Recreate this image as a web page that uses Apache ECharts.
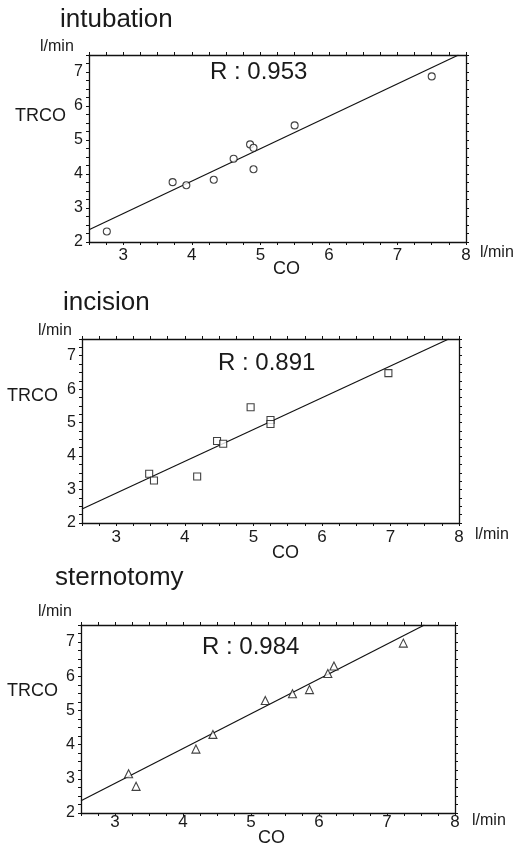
<!DOCTYPE html>
<html>
<head>
<meta charset="utf-8">
<script src="https://cdn.jsdelivr.net/npm/echarts@6/dist/echarts.min.js"></script>
<style>
html,body{margin:0;padding:0;background:#fff;}
#chart{width:526px;height:846px;}
</style>
</head>
<body>
<div id="chart"></div>
<script>
// ---- data ----
var panelTitles = ['intubation', 'incision', 'sternotomy'];
var rLabels = ['R : 0.953', 'R : 0.891', 'R : 0.984'];
var xTickLabels = [3, 4, 5, 6, 7, 8];
var yTickLabels = [2, 3, 4, 5, 6, 7];

var intubationPoints = [
  [2.76, 2.31], [3.72, 3.76], [3.92, 3.67], [4.32, 3.83], [4.61, 4.45],
  [4.85, 4.87], [4.90, 4.77], [4.90, 4.14], [5.50, 5.43], [7.50, 6.87]
];
var incisionPoints = [
  [3.48, 3.47], [3.55, 3.27], [4.18, 3.39], [4.47, 4.45], [4.56, 4.37],
  [4.96, 5.46], [5.25, 5.08], [5.25, 4.96], [6.97, 6.48]
];
var sternotomyPoints = [
  [3.20, 3.15], [3.31, 2.78], [4.19, 3.87], [4.44, 4.30], [5.21, 5.29],
  [5.61, 5.49], [5.86, 5.61], [6.13, 6.08], [6.22, 6.30], [7.24, 6.97]
];
var intubationFit = [[2.5, 2.36], [7.89, 7.5]];
var incisionFit = [[2.5, 2.42], [7.85, 7.5]];
var sternotomyFit = [[2.5, 2.36], [7.55, 7.5]];

var pointSets = [intubationPoints, incisionPoints, sternotomyPoints];
var fitSets = [intubationFit, incisionFit, sternotomyFit];
var symbols = ['circle', 'rect', 'triangle'];

// ---- layout ----
var FONT = 'Liberation Sans, Arial, sans-serif';
var grids = [
  {left: 89, top: 55, width: 377, height: 187},
  {left: 82, top: 339, width: 377, height: 184},
  {left: 81, top: 625, width: 374, height: 188}
];
var xLabelMargin = [5, 6, 1];
var txt = [
  {title:{left:60,top:7}, unitY:{left:40,top:39}, r:{left:210,top:60}, trco:{left:15,top:107}, unitX:{left:480,top:245}, co:{left:273,top:260}},
  {title:{left:63,top:290}, unitY:{left:38,top:323}, r:{left:218,top:351}, trco:{left:7,top:387}, unitX:{left:475,top:527}, co:{left:272,top:544}},
  {title:{left:55,top:565}, unitY:{left:38,top:604}, r:{left:202,top:635}, trco:{left:7,top:682}, unitX:{left:472,top:813}, co:{left:258,top:829}}
];

var option = {
  backgroundColor: '#ffffff',
  animation: false,
  textStyle: {fontFamily: FONT, color: '#111'},
  title: [], grid: [], xAxis: [], yAxis: [], series: []
};

function t(text, pos, size) {
  return {text: text, left: pos.left, top: pos.top, padding: 0,
    textStyle: {fontFamily: FONT, fontSize: size, fontWeight: 'normal', color: '#1a1a1a'}};
}

for (var i = 0; i < 3; i++) {
  option.grid.push(Object.assign({containLabel: false}, grids[i]));
  option.title.push(t(panelTitles[i], txt[i].title, 26));
  option.title.push(t('l/min', txt[i].unitY, 16));
  option.title.push(t(rLabels[i], txt[i].r, 24));
  option.title.push(t('TRCO', txt[i].trco, 18));
  option.title.push(t('l/min', txt[i].unitX, 16));
  option.title.push(t('CO', txt[i].co, 18));

  var lineStyle = {color: '#111', width: 1.3};
  var tick = {show: true, inside: false, length: 3, lineStyle: {color: '#111', width: 1}};
  var xBase = {type: 'value', gridIndex: i, min: 2.5, max: 8, interval: 0.25,
    splitLine: {show: false}, axisLine: {show: true, onZero: false, lineStyle: lineStyle}, axisTick: tick};
  var yBase = {type: 'value', gridIndex: i, min: 2, max: 7.5, interval: 0.25,
    splitLine: {show: false}, axisLine: {show: true, onZero: false, lineStyle: lineStyle}, axisTick: tick};

  option.xAxis.push(Object.assign({}, xBase, {position: 'bottom',
    axisLabel: {show: true, margin: xLabelMargin[i], fontSize: 17, color: '#1a1a1a', fontFamily: FONT,
      showMinLabel: true, showMaxLabel: true,
      formatter: function (v) { return xTickLabels.indexOf(v) >= 0 ? String(v) : ''; }}}));
  option.xAxis.push(Object.assign({}, xBase, {position: 'top', axisLabel: {show: false}}));
  option.yAxis.push(Object.assign({}, yBase, {position: 'left',
    axisLabel: {show: true, margin: 6, fontSize: 16, color: '#1a1a1a', fontFamily: FONT,
      formatter: function (v) { return yTickLabels.indexOf(v) >= 0 ? String(v) : ''; }}}));
  option.yAxis.push(Object.assign({}, yBase, {position: 'right', axisLabel: {show: false}}));

  option.series.push({
    type: 'line', xAxisIndex: 2 * i, yAxisIndex: 2 * i, data: fitSets[i],
    symbol: 'none', lineStyle: {color: '#111', width: 1.2}, silent: true, z: 2
  });
  option.series.push({
    type: 'scatter', xAxisIndex: 2 * i, yAxisIndex: 2 * i, data: pointSets[i],
    symbol: symbols[i], symbolSize: symbols[i] === 'triangle' ? 8 : 7,
    itemStyle: {color: '#fff', borderColor: '#111', borderWidth: 1.1}, z: 3
  });
}

var chart = echarts.init(document.getElementById('chart'), null, {renderer: 'canvas'});
chart.setOption(option);
</script>
</body>
</html>
